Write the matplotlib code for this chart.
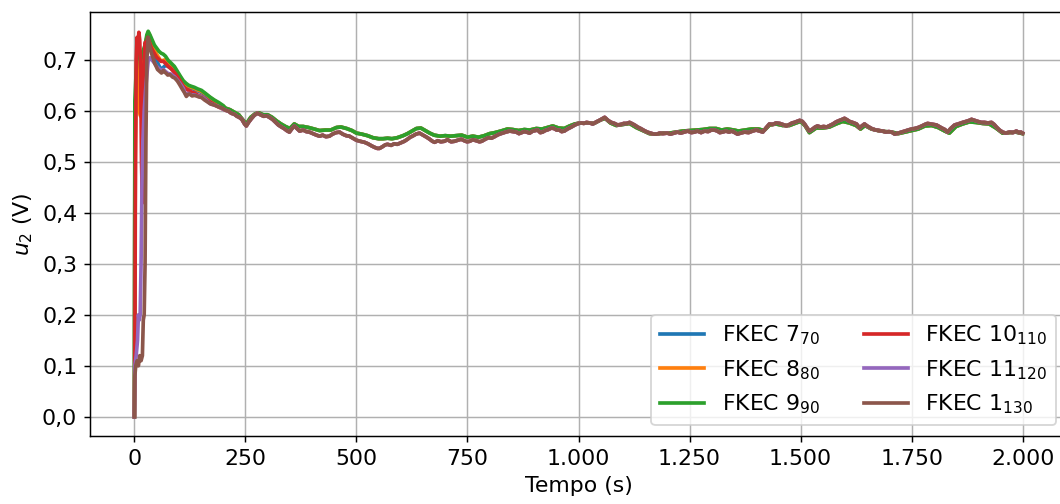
import numpy as np
import matplotlib
matplotlib.use('Agg')
import matplotlib.pyplot as plt
from matplotlib.ticker import FuncFormatter, MultipleLocator

plt.rcParams['font.size'] = 12

# --- Early transient (0-200 s), one trace per controller ---
t_early_a = [0, 1, 3, 5, 8, 11, 14, 17, 20, 24, 28, 31, 35, 40, 45, 50, 55, 60, 65, 70,
             76, 82, 90, 97, 104, 110, 116, 122, 128, 135, 142, 151, 160, 170, 180, 190, 200]
u_blue_early = [0.0, 0.50, 0.62, 0.68, 0.72, 0.71, 0.69, 0.70, 0.71, 0.72, 0.745, 0.752, 0.745,
                0.730, 0.715, 0.700, 0.690, 0.682, 0.686, 0.690, 0.688, 0.684, 0.680, 0.672,
                0.663, 0.655, 0.650, 0.647, 0.645, 0.643, 0.640, 0.637, 0.632, 0.625, 0.619,
                0.614, 0.609]
u_orange_early = [0.0, 0.45, 0.60, 0.66, 0.70, 0.60, 0.59, 0.65, 0.70, 0.72, 0.745, 0.755, 0.748,
                  0.735, 0.722, 0.712, 0.705, 0.698, 0.700, 0.701, 0.695, 0.690, 0.684, 0.675,
                  0.666, 0.657, 0.652, 0.649, 0.647, 0.645, 0.642, 0.639, 0.634, 0.627, 0.621,
                  0.615, 0.610]
u_green_early = [0.0, 0.62, 0.66, 0.70, 0.73, 0.72, 0.70, 0.71, 0.72, 0.73, 0.75, 0.757, 0.750,
                 0.740, 0.730, 0.724, 0.718, 0.714, 0.712, 0.708, 0.700, 0.695, 0.688, 0.678,
                 0.668, 0.660, 0.655, 0.651, 0.649, 0.647, 0.644, 0.641, 0.635, 0.628, 0.622,
                 0.617, 0.611]

t_early_red = [0, 1, 2, 4, 6, 8, 10, 12, 14, 16, 18, 20, 22, 24, 27, 30, 34, 38, 42, 46, 50,
               55, 60, 65, 70, 76, 82, 90, 97, 104, 110, 116, 122, 128, 135, 142, 151, 160,
               170, 180, 190, 200]
u_red_early = [0.0, 0.11, 0.40, 0.70, 0.745, 0.73, 0.755, 0.74, 0.68, 0.50, 0.42, 0.55, 0.70,
               0.735, 0.73, 0.745, 0.735, 0.725, 0.718, 0.712, 0.706, 0.702, 0.698, 0.698,
               0.694, 0.688, 0.684, 0.676, 0.668, 0.658, 0.649, 0.644, 0.641, 0.638, 0.636,
               0.632, 0.629, 0.624, 0.618, 0.613, 0.608, 0.604]

t_early_purple = [0, 1, 4, 7, 9, 11, 13, 15, 17, 19, 22, 25, 28, 31, 35, 40, 45, 50, 55, 60,
                  65, 70, 76, 82, 90, 97, 104, 110, 116, 122, 128, 135, 142, 151, 160, 170,
                  180, 190, 200]
u_purple_early = [0.0, 0.10, 0.12, 0.15, 0.20, 0.19, 0.20, 0.30, 0.45, 0.54, 0.60, 0.64, 0.67,
                  0.70, 0.705, 0.70, 0.695, 0.688, 0.684, 0.680, 0.682, 0.678, 0.674, 0.673,
                  0.668, 0.661, 0.653, 0.645, 0.632, 0.635, 0.632, 0.632, 0.630, 0.628, 0.623,
                  0.615, 0.612, 0.609, 0.604]

t_early_brown = [0, 1, 3, 6, 9, 12, 15, 18, 20, 22, 24, 26, 28, 31, 34, 38, 42, 45, 49, 52,
                 57, 61, 65, 68, 72, 75, 80, 86, 91, 97, 102, 108, 113, 117, 121, 124, 130,
                 135, 140, 145, 151, 158, 165, 172, 180, 188, 196]
u_brown_early = [0.0, 0.08, 0.10, 0.11, 0.10, 0.12, 0.11, 0.12, 0.19, 0.20, 0.30, 0.55, 0.70,
                 0.745, 0.73, 0.715, 0.705, 0.695, 0.688, 0.682, 0.678, 0.675, 0.680, 0.677,
                 0.674, 0.671, 0.672, 0.667, 0.665, 0.659, 0.652, 0.643, 0.636, 0.629, 0.633,
                 0.634, 0.630, 0.631, 0.630, 0.628, 0.627, 0.622, 0.618, 0.614, 0.612, 0.609,
                 0.607]

# --- Steady part (after 200 s): upper trace (FKEC 7-9), lower trace (FKEC 10, 11, 1) ---
t_upper = [205, 215, 225, 235, 245, 252, 262, 272, 280, 290, 300, 310, 320, 330, 340, 350,
           360, 370, 380, 392, 405, 417, 430, 442, 455, 465, 478, 490, 500, 512, 525, 537,
           550, 560, 570, 580, 592, 605, 615, 625, 635, 645, 655, 665, 675, 688, 700, 712,
           725, 737, 750, 762, 775, 788, 800, 812, 825, 840, 852, 865, 878, 890, 905, 918,
           930, 942, 955, 968, 980, 992, 1005, 1020, 1035, 1050, 1060, 1072, 1085, 1100,
           1115, 1130, 1145, 1160, 1175, 1190, 1205, 1220, 1235, 1250, 1265, 1280, 1295,
           1310, 1322, 1335, 1350, 1360, 1375, 1390, 1405, 1418, 1430, 1445, 1460, 1475,
           1490, 1500, 1510, 1520, 1535, 1550, 1565, 1580, 1595, 1610, 1625, 1635, 1645,
           1660, 1675, 1690, 1705, 1720, 1735, 1750, 1765, 1780, 1795, 1810, 1825, 1835,
           1850, 1865, 1880, 1895, 1910, 1925, 1940, 1955, 1970, 1985, 2000]
u_upper = [0.606, 0.603, 0.598, 0.593, 0.582, 0.575, 0.588, 0.595, 0.597, 0.593, 0.593,
           0.588, 0.581, 0.575, 0.570, 0.566, 0.575, 0.570, 0.570, 0.568, 0.565, 0.562,
           0.563, 0.563, 0.568, 0.569, 0.566, 0.562, 0.557, 0.555, 0.552, 0.548, 0.546,
           0.546, 0.547, 0.546, 0.548, 0.552, 0.556, 0.561, 0.566, 0.567, 0.562, 0.557,
           0.553, 0.551, 0.552, 0.551, 0.552, 0.553, 0.549, 0.551, 0.549, 0.552, 0.556,
           0.558, 0.561, 0.565, 0.564, 0.562, 0.564, 0.563, 0.566, 0.565, 0.568, 0.571,
           0.567, 0.566, 0.571, 0.575, 0.577, 0.577, 0.576, 0.583, 0.586, 0.577, 0.572,
           0.574, 0.576, 0.568, 0.562, 0.556, 0.555, 0.557, 0.557, 0.559, 0.561, 0.562,
           0.563, 0.564, 0.566, 0.566, 0.563, 0.565, 0.563, 0.561, 0.563, 0.565, 0.565,
           0.562, 0.573, 0.575, 0.572, 0.572, 0.577, 0.580, 0.572, 0.558, 0.567, 0.567,
           0.569, 0.575, 0.580, 0.577, 0.572, 0.565, 0.572, 0.565, 0.562, 0.560, 0.559,
           0.556, 0.559, 0.562, 0.565, 0.571, 0.572, 0.568, 0.561, 0.557, 0.570, 0.575,
           0.579, 0.578, 0.576, 0.575, 0.567, 0.557, 0.558, 0.559, 0.556]

t_lower = [205, 212, 218, 225, 231, 236, 242, 248, 252, 257, 263, 270, 277, 284, 291, 298,
           304, 311, 318, 324, 331, 337, 343, 349, 355, 360, 366, 372, 380, 387, 394, 402,
           410, 417, 424, 431, 439, 446, 454, 462, 469, 477, 484, 492, 500, 508, 518, 526,
           534, 541, 547, 552, 558, 565, 570, 578, 585, 592, 600, 608, 615, 621, 626, 634,
           642, 650, 658, 665, 671, 676, 683, 690, 698, 705, 713, 721, 728, 736, 743, 749,
           755, 762, 770, 777, 782, 790, 797, 804, 811, 817, 822, 829, 836, 845, 852, 860,
           866, 872, 878, 883, 890, 897, 903, 908, 914, 919, 925, 932, 939, 945, 951, 957,
           962, 968, 975, 984, 992, 1000, 1006, 1012, 1018, 1025, 1032, 1040, 1047, 1053,
           1059, 1065, 1070, 1074, 1081, 1088, 1095, 1102, 1108, 1115, 1122, 1128, 1133,
           1140, 1148, 1155, 1162, 1170, 1176, 1183, 1190, 1200, 1207, 1215, 1223, 1230,
           1238, 1246, 1254, 1261, 1268, 1276, 1284, 1292, 1299, 1306, 1313, 1318, 1324,
           1332, 1339, 1345, 1352, 1358, 1365, 1374, 1383, 1392, 1400, 1408, 1415, 1422,
           1430, 1437, 1445, 1453, 1460, 1468, 1475, 1481, 1486, 1492, 1498, 1504, 1509,
           1515, 1520, 1527, 1533, 1538, 1545, 1552, 1559, 1566, 1573, 1580, 1588, 1594,
           1599, 1605, 1610, 1617, 1626, 1633, 1638, 1644, 1650, 1656, 1662, 1670, 1677,
           1685, 1692, 1699, 1705, 1712, 1720, 1727, 1735, 1742, 1750, 1757, 1765, 1773,
           1780, 1786, 1793, 1800, 1806, 1812, 1818, 1825, 1831, 1838, 1847, 1855, 1865,
           1873, 1880, 1885, 1892, 1899, 1907, 1914, 1922, 1930, 1936, 1941, 1948, 1955,
           1962, 1971, 1978, 1986, 1992, 1996, 2000]
u_lower = [0.602, 0.600, 0.596, 0.594, 0.590, 0.588, 0.584, 0.575, 0.571, 0.578, 0.585,
           0.592, 0.596, 0.593, 0.590, 0.591, 0.588, 0.584, 0.578, 0.573, 0.569, 0.566,
           0.562, 0.559, 0.566, 0.571, 0.566, 0.561, 0.563, 0.560, 0.559, 0.556, 0.553,
           0.551, 0.553, 0.550, 0.551, 0.555, 0.558, 0.559, 0.555, 0.552, 0.551, 0.547,
           0.543, 0.541, 0.539, 0.536, 0.532, 0.529, 0.527, 0.527, 0.530, 0.534, 0.535,
           0.533, 0.536, 0.535, 0.538, 0.541, 0.545, 0.549, 0.551, 0.555, 0.557, 0.553,
           0.549, 0.545, 0.541, 0.539, 0.542, 0.540, 0.541, 0.544, 0.540, 0.541, 0.543,
           0.545, 0.542, 0.540, 0.541, 0.544, 0.542, 0.540, 0.541, 0.545, 0.548, 0.547,
           0.550, 0.553, 0.555, 0.557, 0.559, 0.561, 0.560, 0.559, 0.556, 0.558, 0.560,
           0.559, 0.557, 0.561, 0.562, 0.563, 0.558, 0.559, 0.562, 0.564, 0.567, 0.566,
           0.563, 0.563, 0.560, 0.561, 0.565, 0.569, 0.573, 0.576, 0.577, 0.576, 0.578,
           0.577, 0.575, 0.579, 0.582, 0.585, 0.588, 0.583, 0.580, 0.578, 0.576, 0.573,
           0.574, 0.576, 0.576, 0.578, 0.575, 0.572, 0.569, 0.566, 0.562, 0.559, 0.557,
           0.555, 0.555, 0.557, 0.556, 0.557, 0.555, 0.557, 0.559, 0.557, 0.559, 0.561,
           0.558, 0.559, 0.561, 0.558, 0.561, 0.560, 0.563, 0.563, 0.561, 0.558, 0.559,
           0.561, 0.559, 0.561, 0.558, 0.555, 0.557, 0.559, 0.558, 0.561, 0.563, 0.561,
           0.559, 0.567, 0.575, 0.574, 0.577, 0.576, 0.574, 0.571, 0.574, 0.577, 0.578,
           0.580, 0.582, 0.580, 0.575, 0.567, 0.561, 0.565, 0.569, 0.571, 0.569, 0.570,
           0.569, 0.572, 0.575, 0.579, 0.582, 0.584, 0.586, 0.583, 0.580, 0.578, 0.575,
           0.567, 0.571, 0.575, 0.571, 0.568, 0.565, 0.563, 0.562, 0.561, 0.559, 0.560,
           0.559, 0.555, 0.557, 0.559, 0.561, 0.563, 0.565, 0.566, 0.568, 0.571, 0.574,
           0.576, 0.575, 0.574, 0.573, 0.570, 0.567, 0.564, 0.559, 0.566, 0.573, 0.575,
           0.578, 0.580, 0.582, 0.584, 0.582, 0.580, 0.578, 0.578, 0.577, 0.578, 0.574,
           0.569, 0.563, 0.559, 0.557, 0.559, 0.558, 0.561, 0.558, 0.559, 0.557]

labels = [r'FKEC 7$_{70}$', r'FKEC 8$_{80}$', r'FKEC 9$_{90}$',
          r'FKEC 10$_{110}$', r'FKEC 11$_{120}$', r'FKEC 1$_{130}$']

series = [
    (t_early_a, u_blue_early, t_upper, u_upper),
    (t_early_a, u_orange_early, t_upper, u_upper),
    (t_early_a, u_green_early, t_upper, u_upper),
    (t_early_red, u_red_early, t_lower, u_lower),
    (t_early_purple, u_purple_early, t_lower, u_lower),
    (t_early_brown, u_brown_early, t_lower, u_lower),
]

dpi = 132
fig = plt.figure(figsize=(1060 / dpi, 504 / dpi), dpi=dpi)
ax = fig.add_axes([90 / 1060, 68 / 504, 977 / 1060, 424 / 504])

for (te, ue, tl, ul), lab in zip(series, labels):
    t = np.concatenate([te, tl])
    u = np.concatenate([ue, ul])
    ax.plot(t, u, lw=2, label=lab)

ax.xaxis.set_major_locator(MultipleLocator(250))
ax.yaxis.set_major_locator(MultipleLocator(0.1))
ax.xaxis.set_major_formatter(FuncFormatter(lambda v, _: f'{v:,.0f}'.replace(',', '.')))
ax.yaxis.set_major_formatter(FuncFormatter(lambda v, _: f'{v:.1f}'.replace('.', ',')))
ax.set_xlabel('Tempo (s)')
ax.set_ylabel(r'$u_2$ (V)')
ax.grid(True)
ax.legend(ncol=2, loc='lower right', fontsize=12)

fig.savefig('out.png', dpi=dpi)
